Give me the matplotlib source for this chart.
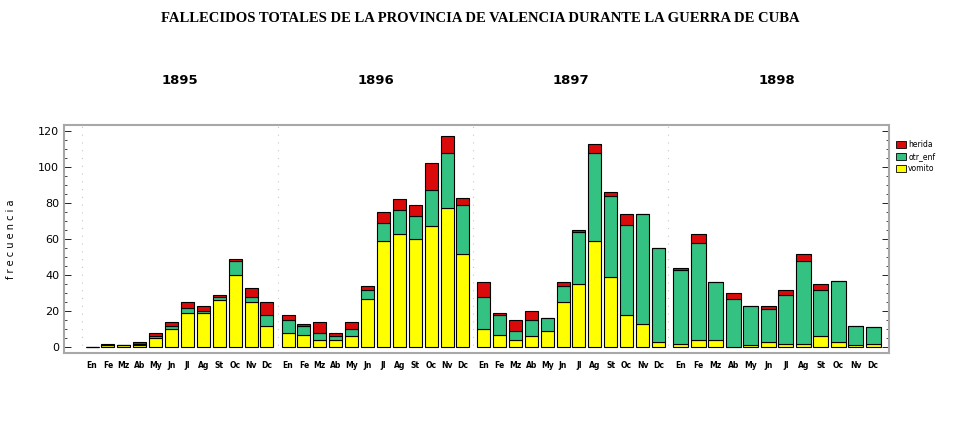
import numpy as np
import matplotlib.pyplot as plt
from matplotlib.patches import Patch
from matplotlib.ticker import MultipleLocator

years = ['1895', '1896', '1897', '1898']
months = ['En', 'Fe', 'Mz', 'Ab', 'My', 'Jn', 'Jl', 'Ag', 'St', 'Oc', 'Nv', 'Dc']

# deaths per month, one list per year
vomito = {
    '1895': [0, 1, 1, 1, 5, 10, 19, 19, 26, 40, 25, 12],
    '1896': [8, 7, 4, 4, 6, 27, 59, 63, 60, 67, 77, 52],
    '1897': [10, 7, 4, 6, 9, 25, 35, 59, 39, 18, 13, 3],
    '1898': [2, 4, 4, 0, 1, 3, 2, 2, 6, 3, 1, 2],
}
otr_enf = {
    '1895': [0, 0, 0, 1, 1, 2, 3, 1, 2, 8, 3, 6],
    '1896': [7, 5, 4, 2, 4, 5, 10, 13, 13, 20, 31, 27],
    '1897': [18, 11, 5, 9, 7, 9, 29, 49, 45, 50, 61, 52],
    '1898': [41, 54, 32, 27, 22, 18, 27, 46, 26, 34, 11, 9],
}
herida = {
    '1895': [0, 1, 0, 1, 2, 2, 3, 3, 1, 1, 5, 7],
    '1896': [3, 1, 6, 2, 4, 2, 6, 6, 6, 15, 9, 4],
    '1897': [8, 1, 6, 5, 0, 2, 1, 5, 2, 6, 0, 0],
    '1898': [1, 5, 0, 3, 0, 2, 3, 4, 3, 0, 0, 0],
}

# layout of the year blocks (x in axis units)
centers = [179.5, 375.5, 571, 777]
steps = [15.9, 15.9, 15.9, 17.5]
widths = [13, 13, 13, 15]
seps = [82, 278, 473, 668]

c_her = '#DA0A0A'
c_otr = '#33C282'
c_vom = '#FFFF00'

fig = plt.figure(figsize=(9.6, 4.21), dpi=100)
ax = fig.add_axes([64 / 960, 68 / 421, (889 - 64) / 960, (353 - 125) / 421])

xt, xl = [], []
for k, yr in enumerate(years):
    x = centers[k] + (np.arange(12) - 5.5) * steps[k]
    v = np.array(vomito[yr])
    o = np.array(otr_enf[yr])
    h = np.array(herida[yr])
    kw = dict(width=widths[k], edgecolor='black', linewidth=0.8)
    ax.bar(x, v, color=c_vom, **kw)
    ax.bar(x, o, bottom=v, color=c_otr, **kw)
    ax.bar(x, h, bottom=v + o, color=c_her, **kw)
    xt += list(x)
    xl += months
    fig.text(centers[k] / 960, 1 - 80 / 421, yr, ha='center', va='center',
             fontsize=9.5, fontweight='bold', family='Liberation Sans Narrow')

for s in seps:
    ax.axvline(s, color='#c8c8c8', linestyle=(0, (1, 6)), linewidth=0.8, zorder=0)

ax.set_xlim(64, 889)
ax.set_ylim(-3.2, 123.3)
ax.set_xticks(xt)
ax.set_xticklabels(xl, fontsize=5.5, family='Liberation Sans Narrow', fontweight='bold')
ax.tick_params(axis='x', length=0, pad=6)
ax.yaxis.set_major_locator(MultipleLocator(20))
ax.yaxis.set_minor_locator(MultipleLocator(5))
ax.tick_params(axis='y', which='both', direction='in', right=True, labelsize=8)
ax.tick_params(axis='y', which='major', length=5, width=0.6)
ax.tick_params(axis='y', which='minor', length=2.5, width=0.5)
for sp in ax.spines.values():
    sp.set_color('#a8a8a8')
    sp.set_linewidth(1.5)
ax.set_ylabel('f r e c u e n c i a', fontsize=7, labelpad=16)

fig.text(0.5, 1 - 18 / 421,
         'FALLECIDOS TOTALES DE LA PROVINCIA DE VALENCIA DURANTE LA GUERRA DE CUBA',
         ha='center', va='center', fontsize=10.5, fontweight='bold', family='Liberation Serif')

handles = [Patch(facecolor=c_her, edgecolor='black', linewidth=0.6, label='herida'),
           Patch(facecolor=c_otr, edgecolor='black', linewidth=0.6, label='otr_enf'),
           Patch(facecolor=c_vom, edgecolor='black', linewidth=0.6, label='vomito')]
fig.legend(handles=handles, loc='upper left', bbox_to_anchor=(896 / 960, 1 - 140 / 421),
           frameon=False, fontsize=5.5, handlelength=1.3, handleheight=1.1,
           handletextpad=0.3, labelspacing=0.4, borderaxespad=0, borderpad=0)

fig.savefig('out.png', dpi=100)
